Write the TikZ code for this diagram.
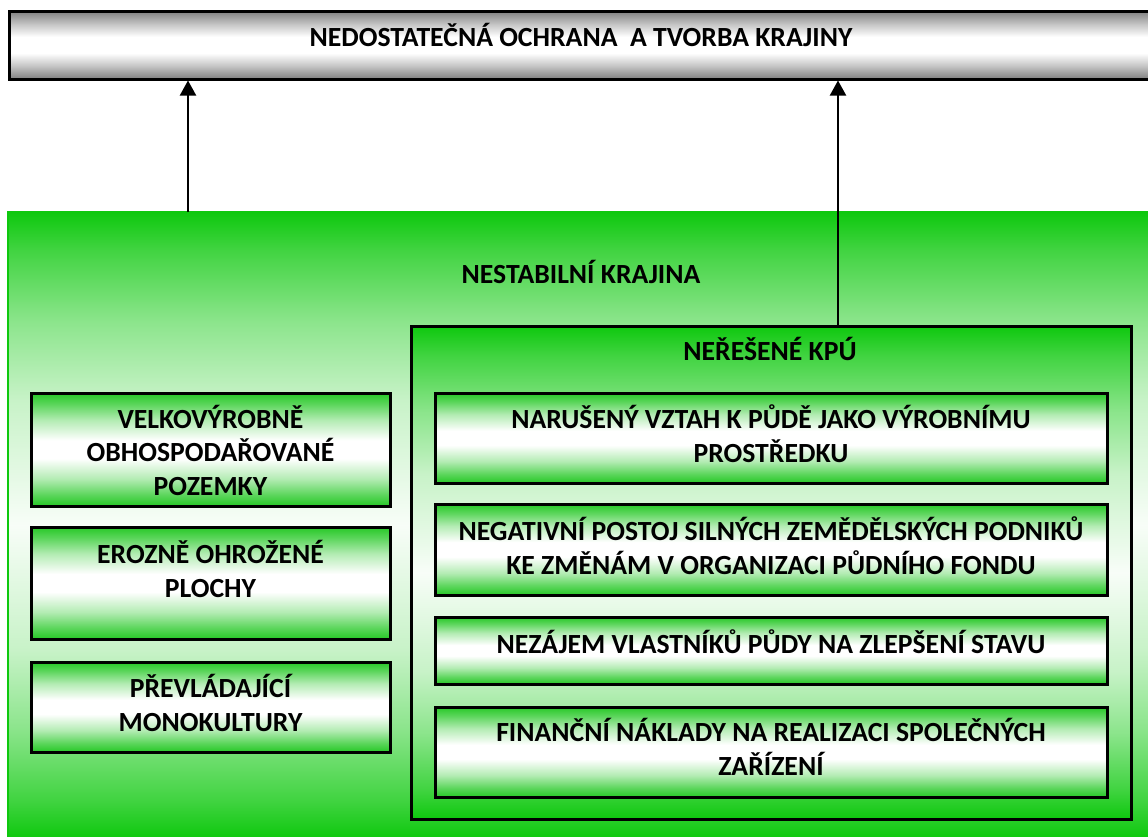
\documentclass[tikz,border=0pt]{standalone}
\usepackage{fontspec}
\setmainfont{Carlito}
\usetikzlibrary{arrows.meta}
\definecolor{gtop}{RGB}{14,200,14}
\definecolor{gbx}{RGB}{38,200,38}
\pgfdeclareverticalshading{boxshade}{100bp}{color(0bp)=(gbx); color(25bp)=(gbx); color(30bp)=(gbx!75!white); color(37bp)=(gbx!35!white); color(46bp)=(white); color(54bp)=(white); color(63bp)=(gbx!35!white); color(70bp)=(gbx!75!white); color(75bp)=(gbx); color(100bp)=(gbx)}
\pgfdeclareverticalshading{barshade}{100bp}{color(0bp)=(black!50); color(25bp)=(black!50); color(35bp)=(black!22); color(44bp)=(white); color(56bp)=(white); color(65bp)=(black!22); color(75bp)=(black!50); color(100bp)=(black!50)}
\pgfdeclareverticalshading{bigshade}{100bp}{color(0bp)=(gtop); color(25bp)=(gtop); color(28bp)=(gtop!79!white); color(33.7bp)=(gtop!48!white); color(40bp)=(gtop!23!white); color(50bp)=(gtop!3!white); color(60bp)=(gtop!23!white); color(66.3bp)=(gtop!48!white); color(72bp)=(gtop!79!white); color(75bp)=(gtop); color(100bp)=(gtop)}
\begin{document}
\begin{tikzpicture}[x=1pt,y=-1pt,
  txt/.style={font=\fontsize{27.7}{33.5}\selectfont\bfseries, align=center, inner sep=0pt, anchor=base, text=black},
  gboxst/.style={draw=black, line width=3pt, shading=boxshade, inner sep=0pt},
  barst/.style={draw=black, line width=3pt, shading=barshade, inner sep=0pt},
  bigst/.style={draw=gtop, line width=2.5pt, shading=bigshade, inner sep=0pt},
  kpust/.style={draw=black, line width=3pt, shading=bigshade, inner sep=0pt},
  arr/.style={line width=2pt, -{Triangle[width=16pt,length=15pt]}}]
\useasboundingbox (0,0) rectangle (1148,836);
% top bar
\node[barst, minimum width=1146pt, minimum height=68pt] (top) at (582,45) {};
\node[txt] (titlet) at (581,46) {NEDOSTATEČNÁ OCHRANA\ \ A TVORBA KRAJINY};
% big green region
\node[bigst, minimum width=1150pt, minimum height=626pt] (nk) at (583,525) {};
\node[txt] (nkt) at (581,283) {NESTABILNÍ KRAJINA};
% KPU box
\node[kpust, minimum width=720pt, minimum height=493pt] (kpu) at (771,572.5) {};
\node[txt] (kput) at (770,360) {NEŘEŠENÉ KPÚ};
% left boxes (text anchored at baseline of last line)
\node[gboxst, minimum width=359pt, minimum height=113pt] (bA) at (210.5,449.5) {};
\node[txt] (tA) at (210.5,495) {VELKOVÝROBNĚ\\OBHOSPODAŘOVANÉ\\POZEMKY};
\node[gboxst, minimum width=359pt, minimum height=112pt] (bB) at (210.5,583) {};
\node[txt] (tB) at (210.5,597) {EROZNĚ OHROŽENÉ\\PLOCHY};
\node[gboxst, minimum width=359pt, minimum height=90pt] (bC) at (210.5,707) {};
\node[txt] (tC) at (210.5,731) {PŘEVLÁDAJÍCÍ\\MONOKULTURY};
% right boxes
\node[gboxst, minimum width=672pt, minimum height=90pt] (r1) at (771,438) {};
\node[txt] (t1) at (771,462) {NARUŠENÝ VZTAH K PŮDĚ JAKO VÝROBNÍMU\\PROSTŘEDKU};
\node[gboxst, minimum width=672pt, minimum height=91pt] (r2) at (771,549.5) {};
\node[txt] (t2) at (771,574) {NEGATIVNÍ POSTOJ SILNÝCH ZEMĚDĚLSKÝCH PODNIKŮ\\KE ZMĚNÁM V ORGANIZACI PŮDNÍHO FONDU};
\node[gboxst, minimum width=672pt, minimum height=67pt] (r3) at (771,650.5) {};
\node[txt] (t3) at (771,653) {NEZÁJEM VLASTNÍKŮ PŮDY NA ZLEPŠENÍ STAVU};
\node[gboxst, minimum width=672pt, minimum height=90pt] (r4) at (771,752) {};
\node[txt] (t4) at (771,775) {FINANČNÍ NÁKLADY NA REALIZACI SPOLEČNÝCH\\ZAŘÍZENÍ};
% arrows
\coordinate (a1) at (188,212);
\coordinate (a2) at (838,0);
\draw[arr] (a1) -- (a1 |- top.south);
\draw[arr] (a2 |- kpu.north) -- (a2 |- top.south);
\end{tikzpicture}
\end{document}
